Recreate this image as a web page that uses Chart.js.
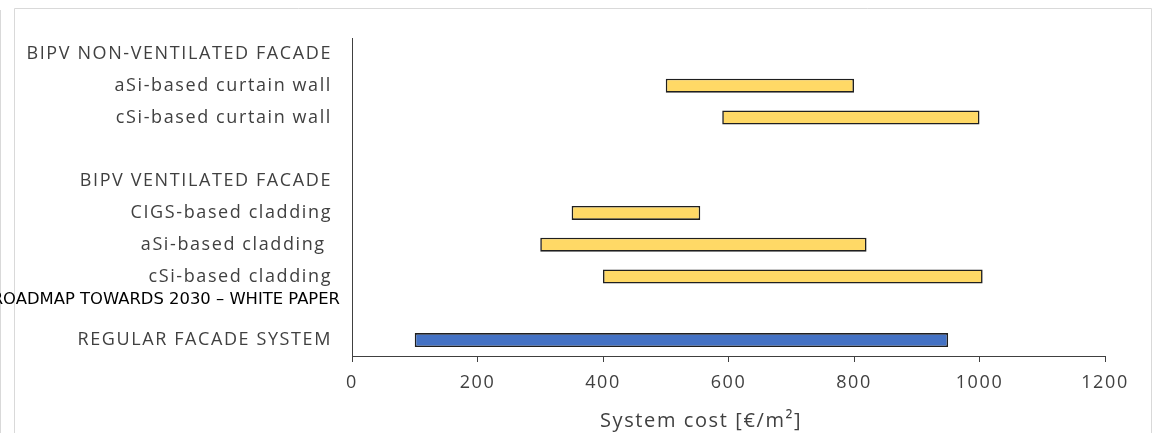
<!DOCTYPE html>
<html>
<head>
<meta charset="utf-8">
<script src="https://cdn.jsdelivr.net/npm/chart.js@4"></script>
<style>
  html, body { margin: 0; padding: 0; background: #fff; }
  #wrap { width: 1153px; height: 433px; }
</style>
</head>
<body>
<div id="wrap"><canvas id="bar-chart"></canvas></div>
<script>
// categories from top to bottom (headers and gaps have no bar)
const categories = [
  "BIPV NON-VENTILATED FACADE",
  "aSi-based curtain wall",
  "cSi-based curtain wall",
  "",
  "BIPV VENTILATED FACADE",
  "CIGS-based cladding",
  "aSi-based cladding ",
  "cSi-based cladding",
  "",
  "REGULAR FACADE SYSTEM"
];
const costMin = [null, 500, 590, null, null, 350, 300, 400, null, 100];
const costMax = [null, 800, 1000, null, null, 555, 820, 1005, null, 950];
const barColors = ["#FFD966", "#FFD966", "#FFD966", "#FFD966", "#FFD966", "#FFD966", "#FFD966", "#FFD966", "#FFD966", "#4472C4"];
const xTicks = [0, 200, 400, 600, 800, 1000, 1200];

// page frame, wider letter spacing and the stray header line of the source page
const pageBits = {
  id: 'pageBits',
  beforeDraw(chart) {
    const ctx = chart.ctx;
    ctx.save();
    ctx.strokeStyle = "#d9d9d9";
    ctx.lineWidth = 1;
    ctx.beginPath();
    ctx.moveTo(0.5, 10); ctx.lineTo(0.5, 433);
    ctx.moveTo(14.5, 433); ctx.lineTo(14.5, 8.5); ctx.lineTo(1151.5, 8.5); ctx.lineTo(1151.5, 433);
    ctx.stroke();
    ctx.restore();
    ctx.letterSpacing = "1.6px";
  },
  afterDraw(chart) {
    const ctx = chart.ctx;
    ctx.letterSpacing = "0px";
    ctx.save();
    ctx.font = "16.4px 'DejaVu Sans'";
    ctx.fillStyle = "#000";
    ctx.textAlign = "right";
    ctx.textBaseline = "middle";
    ctx.fillText("ROADMAP TOWARDS 2030 \u2013 WHITE PAPER", 340, 300);
    ctx.restore();
  }
};

new Chart(document.getElementById("bar-chart"), {
    type: 'bar',
    data: {
        labels: categories,
        datasets: [
            {
                label: "System cost",
                data: costMin.map((v, i) => v === null ? null : [v, costMax[i]]),
                backgroundColor: barColors,
                borderColor: "#1f1f1f",
                borderWidth: 1.6,
                borderSkipped: false,
                barPercentage: 0.44,
                categoryPercentage: 1.0
            }
        ]
    },
    options: {
        indexAxis: 'y',
        responsive: true,
        maintainAspectRatio: false,
        animation: false,
        layout: { padding: { top: 38, right: 48, left: 0, bottom: 0 } },
        plugins: {
            legend: { display: false },
            tooltip: { enabled: false },
            title: { display: false }
        },
        scales: {
            x: {
                min: 0,
                max: 1200,
                afterBuildTicks: (scale) => { scale.ticks = xTicks.map(v => ({ value: v })); },
                afterFit: (scale) => { scale.height = 77; },
                grid: { drawOnChartArea: false, drawTicks: true, tickLength: 6, color: "#404040" },
                border: { display: true, color: "#404040", width: 1 },
                ticks: {
                    padding: 10,
                    color: "#404040",
                    font: { family: "'Open Sans'", size: 18 },
                    callback: (value) => String(value)
                },
                title: {
                    display: true,
                    text: "System cost [\u20ac/m\u00b2]\u2003\u2003\u2002",
                    color: "#404040",
                    font: { family: "'Open Sans'", size: 20 },
                    padding: { top: 0, bottom: 0 }
                }
            },
            y: {
                afterFit: (scale) => { scale.width = 352; },
                grid: { display: false, drawTicks: false },
                border: { display: true, color: "#404040", width: 1 },
                ticks: {
                    autoSkip: false,
                    padding: 20,
                    color: "#404040",
                    font: { family: "'Open Sans'", size: 18 }
                }
            }
        }
    },
    plugins: [pageBits]
});
</script>
</body>
</html>
